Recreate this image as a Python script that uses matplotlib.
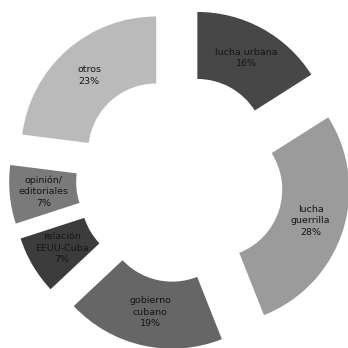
import matplotlib
matplotlib.use("Agg")
import matplotlib.pyplot as plt

categories = ["lucha urbana", "lucha\nguerrilla", "gobierno\ncubano",
              "relación\nEEUU-Cuba", "opinión/\neditoriales", "otros"]
values = [16, 28, 19, 7, 7, 23]
colors = ["#474747", "#9b9b9b", "#666666", "#3c3c3c", "#7a7a7a", "#bababa"]

fig = plt.figure(figsize=(3.48, 3.48), dpi=100)
ax = fig.add_axes([0, 0, 1, 1])

R = 135
it = iter(categories)

def fmt(p):
    return f"{next(it)}\n{p:.0f}%"

wedges, texts, autotexts = ax.pie(
    values, colors=colors, startangle=90, counterclock=False,
    radius=R, center=(180, 169.5), explode=[36] * len(values),
    wedgeprops=dict(width=67, edgecolor="none"),
    autopct=fmt, pctdistance=0.75, frame=True,
    textprops=dict(fontsize=6.8, color="#151515", linespacing=1.35),
)
ax.set_xlim(0, 348)
ax.set_ylim(0, 348)
ax.set_aspect("equal")
ax.axis("off")

fig.savefig("out.png", dpi=100)
